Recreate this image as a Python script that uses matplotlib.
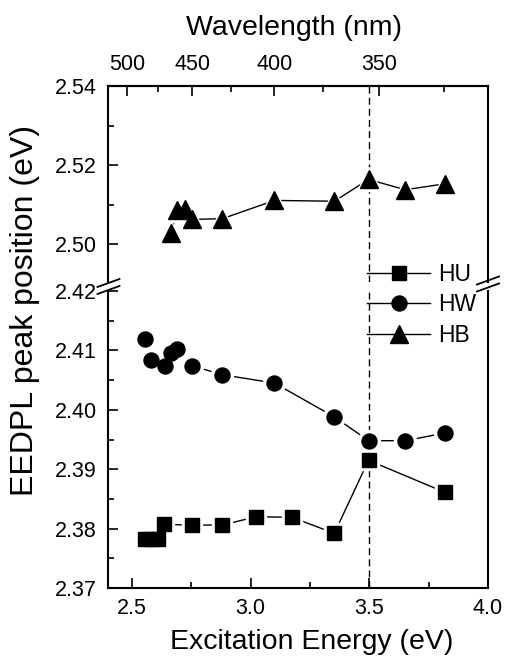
import numpy as np
import matplotlib
matplotlib.use("Agg")
import matplotlib.pyplot as plt
from matplotlib.lines import Line2D
from matplotlib.ticker import MultipleLocator, FixedLocator, FormatStrFormatter

plt.rcParams['font.family'] = ['Liberation Sans', 'DejaVu Sans']

# ---- data ----
hu_energy = [2.555, 2.583, 2.612, 2.636, 2.755, 2.882, 3.024, 3.175, 3.353, 3.497, 3.819]
hu_peak = [2.3783, 2.3783, 2.3783, 2.3807, 2.3806, 2.3806, 2.3820, 2.3819, 2.3792, 2.3915, 2.3861]

hw_energy = [2.555, 2.581, 2.639, 2.664, 2.692, 2.755, 2.882, 3.101, 3.353, 3.497, 3.652, 3.819]
hw_peak = [2.4120, 2.4083, 2.4073, 2.4096, 2.4102, 2.4074, 2.4059, 2.4045, 2.3988, 2.3948, 2.3948, 2.3961]

hb_energy = [2.664, 2.692, 2.724, 2.755, 2.882, 3.101, 3.353, 3.497, 3.652, 3.819]
hb_peak = [2.5028, 2.5086, 2.5090, 2.5063, 2.5065, 2.5111, 2.5109, 2.5164, 2.5138, 2.5153]

marker_line_energy = 3.5
wl_major = [500, 450, 400, 350]
wl_minor = [475, 425, 375, 325]

W, H = 505, 657
fig = plt.figure(figsize=(W / 100, H / 100), dpi=100)

L, R = 108 / W, 488 / W
ax_b = fig.add_axes([L, (H - 588) / H, R - L, (588 - 291) / H])
ax_t = fig.add_axes([L, (H - 282) / H, R - L, (282 - 86) / H])

FS_TICK = 15.5
LW_SP = 1.5

for ax in (ax_b, ax_t):
    ax.set_xlim(2.4, 4.0)
    for s in ax.spines.values():
        s.set_linewidth(LW_SP)
    ax.tick_params(axis='y', which='both', direction='in', right=False, left=True,
                   labelsize=FS_TICK, pad=8, width=1.2)
    ax.tick_params(axis='y', which='major', length=7.5)
    ax.tick_params(axis='y', which='minor', length=4)
    ax.yaxis.set_major_formatter(FormatStrFormatter('%.2f'))
    ax.axvline(marker_line_energy, color='black', lw=1.0, ls=(0, (5, 3)), zorder=1)

ax_b.spines['top'].set_visible(False)
ax_t.spines['bottom'].set_visible(False)

ax_b.set_ylim(2.37, 2.42)
ax_b.yaxis.set_major_locator(MultipleLocator(0.01))
ax_b.yaxis.set_minor_locator(MultipleLocator(0.005))
ax_b.xaxis.set_major_locator(FixedLocator([2.5, 3.0, 3.5, 4.0]))
ax_b.xaxis.set_minor_locator(FixedLocator([2.75, 3.25, 3.75]))
ax_b.xaxis.set_major_formatter(FormatStrFormatter('%.1f'))
ax_b.tick_params(axis='x', which='both', direction='in', top=False, bottom=True,
                 labelsize=FS_TICK, pad=7, width=1.2)
ax_b.tick_params(axis='x', which='major', length=7.5)
ax_b.tick_params(axis='x', which='minor', length=4)

ax_t.set_ylim(2.4905, 2.54)
ax_t.yaxis.set_major_locator(MultipleLocator(0.02))
ax_t.yaxis.set_minor_locator(MultipleLocator(0.01))
ax_t.tick_params(axis='x', which='both', bottom=False, top=False, labelbottom=False)

sec = ax_t.secondary_xaxis('top', functions=(lambda x: 1240.0 / np.maximum(x, 1e-6),
                                              lambda x: 1240.0 / np.maximum(x, 1e-6)))
sec.xaxis.set_major_locator(FixedLocator(wl_major))
sec.xaxis.set_minor_locator(FixedLocator(wl_minor))
sec.tick_params(axis='x', which='both', direction='in', labelsize=FS_TICK, pad=8, width=1.2)
sec.tick_params(axis='x', which='major', length=7.5)
sec.tick_params(axis='x', which='minor', length=4)
sec.spines['top'].set_linewidth(LW_SP)


def series(ax, x, y, marker, ms):
    ax.plot(x, y, color='black', lw=1.0, zorder=2)
    ax.plot(x, y, ls='none', marker=marker, ms=ms + 5, color='white', mec='white', zorder=3)
    ax.plot(x, y, ls='none', marker=marker, ms=ms, color='black', mec='black', zorder=4)


series(ax_b, hu_energy, hu_peak, 's', 10)
series(ax_b, hw_energy, hw_peak, 'o', 10.8)
series(ax_t, hb_energy, hb_peak, '^', 12.5)

# break marks
def brk(xc, yc):
    for dy in (-3.5, 3.5):
        fig.add_artist(Line2D([(xc - 11) / W, (xc + 11) / W],
                              [(H - (yc + dy + 4)) / H, (H - (yc + dy - 4)) / H],
                              color='black', lw=1.3, transform=fig.transFigure))

brk(108.5, 286.5)
brk(488, 284)

# legend
handles = [Line2D([], [], color='black', lw=1.0, marker='s', ms=10),
           Line2D([], [], color='black', lw=1.0, marker='o', ms=10.8),
           Line2D([], [], color='black', lw=1.0, marker='^', ms=12.5)]
fig.legend(handles, ['HU', 'HW', 'HB'], loc='upper left',
           bbox_to_anchor=(367 / W, 1 - 263 / H), frameon=False, fontsize=16.5,
           handlelength=2.75, handletextpad=0.35, labelspacing=0.32,
           borderpad=0, borderaxespad=0)

fig.text(312 / W, (H - 649) / H, 'Excitation Energy (eV)', fontsize=20.5,
         ha='center', va='baseline')
fig.text(294 / W, (H - 35) / H, 'Wavelength (nm)', fontsize=20.5,
         ha='center', va='baseline')
fig.text(25 / W, 1 - 311 / H, 'EEDPL peak position (eV)', fontsize=23,
         rotation=90, ha='center', va='center')

fig.savefig('out.png', dpi=100)
